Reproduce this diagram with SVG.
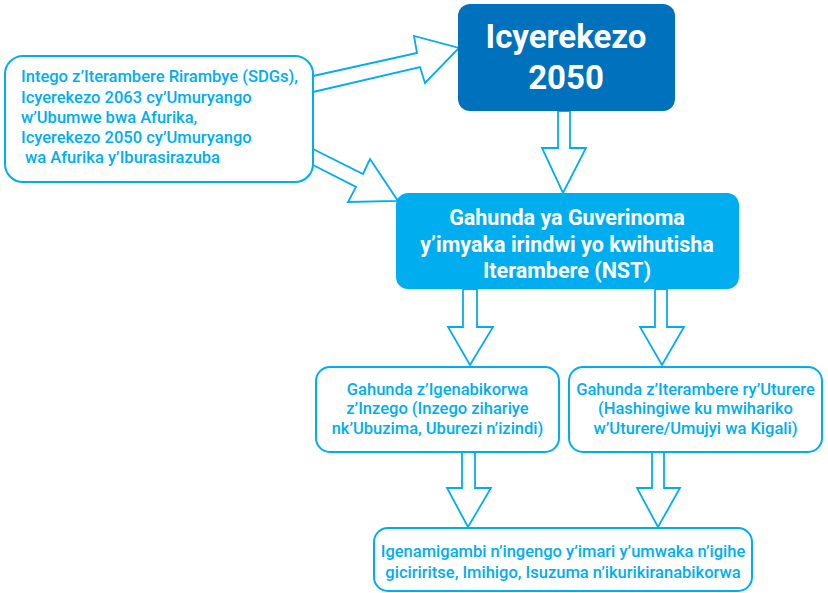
<svg xmlns="http://www.w3.org/2000/svg" width="828" height="593" viewBox="0 0 828 593">
<style>
.box{fill:#fff;stroke:#00aeef;stroke-width:2}
.arr{fill:#fff;stroke:#00aeef;stroke-width:1.8;stroke-linejoin:miter}
.t{font-family:Roboto,"Liberation Sans",sans-serif;font-size:16.5px;font-weight:500;fill:#00aeef}
.c{text-anchor:middle}
.w{font-family:Roboto,"Liberation Sans",sans-serif;font-weight:bold;fill:#fff;text-anchor:middle}
</style>
<rect width="828" height="593" fill="#fff"/>
<g id="connectors">
<polygon class="arr" points="313,76 417,53 414,36 459,48 425,83 420,67 313,92"/>
<polygon class="arr" points="313,149 363,174 370,159 398,201 348,202 356,187 313,165"/>
<polygon class="arr" points="558,111 570,111 570,148 586,148 563,193 542,148 558,148"/>
<polygon class="arr" points="463,289 477,289 477,327 493,327 470,365 448,327 463,327"/>
<polygon class="arr" points="655,289 667,289 667,327 684,327 662,365 640,327 655,327"/>
<polygon class="arr" points="462,452 475,452 475,488 491,488 468,527 447,488 462,488"/>
<polygon class="arr" points="652,452 664,452 664,488 680,488 658,527 637,488 652,488"/>
</g>
<g id="sources">
<rect class="box" x="5" y="56" width="308" height="126" rx="18"/>
<text class="t"><tspan x="21" y="82" textLength="277" lengthAdjust="spacingAndGlyphs">Intego z’Iterambere Rirambye (SDGs),</tspan><tspan x="21" y="103">Icyerekezo 2063 cy’Umuryango</tspan><tspan x="21" y="123">w’Ubumwe bwa Afurika,</tspan><tspan x="21" y="143">Icyerekezo 2050 cy’Umuryango</tspan><tspan x="21" y="163" xml:space="preserve"> wa Afurika y’Iburasirazuba</tspan></text>
</g>
<g id="vision">
<rect x="458" y="4" width="217" height="107" rx="12" fill="#0071bc"/>
<text class="w" font-size="33"><tspan x="566" y="48">Icyerekezo</tspan><tspan x="566" y="89">2050</tspan></text>
</g>
<g id="nst">
<rect x="396" y="193" width="343" height="96" rx="12" fill="#00aeef"/>
<text class="w" font-size="21.5"><tspan x="567" y="225">Gahunda ya Guverinoma</tspan><tspan x="567" y="252">y’imyaka irindwi yo kwihutisha</tspan><tspan x="567" y="278">Iterambere (NST)</tspan></text>
</g>
<g id="sector">
<rect class="box" x="316" y="367" width="243" height="85" rx="14"/>
<text class="t c" font-size="17"><tspan x="437.5" y="395">Gahunda z’Igenabikorwa</tspan><tspan x="437.5" y="414">z’Inzego (Inzego zihariye</tspan><tspan x="437.5" y="434">nk’Ubuzima, Uburezi n’izindi)</tspan></text>
</g>
<g id="district">
<rect class="box" x="569" y="367" width="253" height="85" rx="14"/>
<text class="t c" font-size="17"><tspan x="695.5" y="395">Gahunda z’Iterambere ry’Uturere</tspan><tspan x="695.5" y="414">(Hashingiwe ku mwihariko</tspan><tspan x="695.5" y="434">w’Uturere/Umujyi wa Kigali)</tspan></text>
</g>
<g id="budget">
<rect class="box" x="374" y="528" width="378" height="63" rx="14"/>
<text class="t c"><tspan x="563" y="557">Igenamigambi n’ingengo y’imari y’umwaka n’igihe</tspan><tspan x="563" y="578">giciriritse, Imihigo, Isuzuma n’ikurikiranabikorwa</tspan></text>
</g>
</svg>
